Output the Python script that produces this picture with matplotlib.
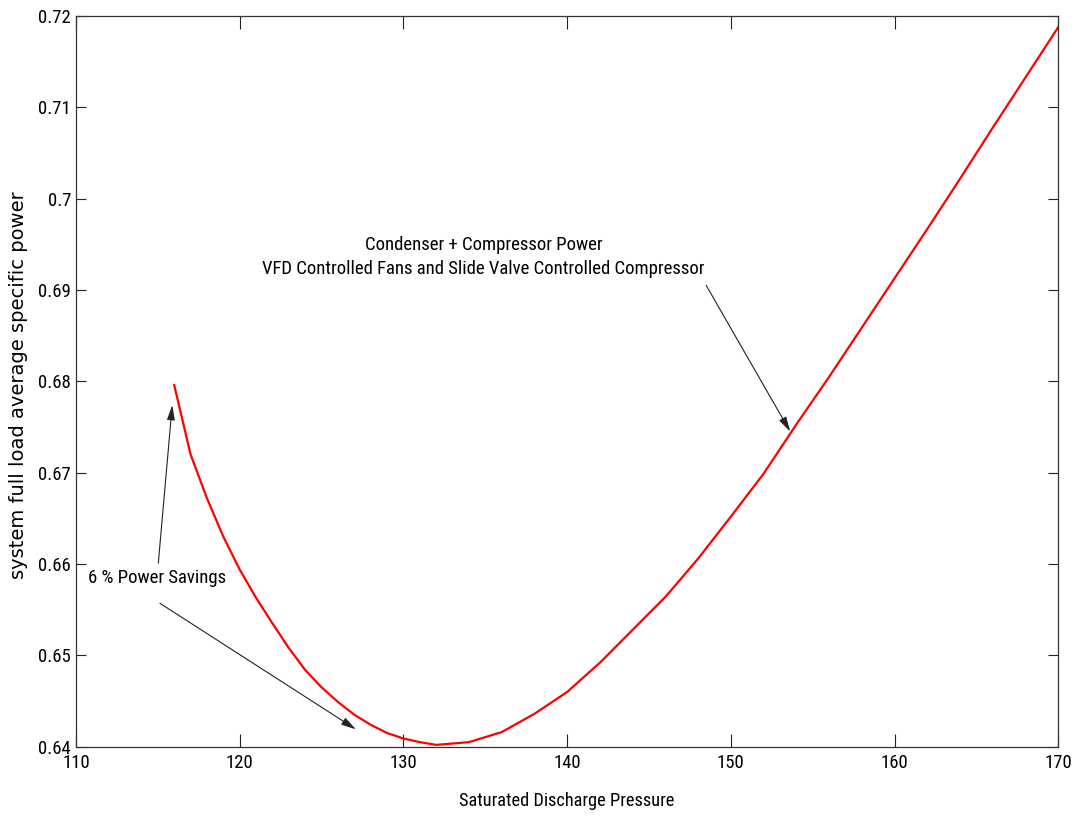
import matplotlib
matplotlib.use("Agg")
import matplotlib.pyplot as plt
from matplotlib import font_manager

# Saturated discharge pressure vs. full-load specific power
pressure = [116, 117, 118, 119, 120, 121, 122, 123, 124, 125, 126, 127, 128,
            129, 130, 131, 132, 134, 136, 138, 140, 142, 144, 146, 148, 150,
            152, 154, 156, 158, 160, 162, 164, 166, 168, 170]
spec_power = [0.6796, 0.6720, 0.6672, 0.6630, 0.6594, 0.6563, 0.6535, 0.6508,
              0.6484, 0.6465, 0.6449, 0.6435, 0.6424, 0.6415, 0.6409, 0.6405,
              0.6402, 0.6405, 0.6416, 0.6436, 0.6460, 0.6492, 0.6528, 0.6564,
              0.6606, 0.6652, 0.6699, 0.6753, 0.6805, 0.6859, 0.6913, 0.6967,
              0.7022, 0.7078, 0.7133, 0.7188]

xticks = [110, 120, 130, 140, 150, 160, 170]
yticks = [0.64, 0.65, 0.66, 0.67, 0.68, 0.69, 0.70, 0.71, 0.72]
ytick_labels = ["0.64", "0.65", "0.66", "0.67", "0.68", "0.69", "0.7", "0.71", "0.72"]

# look for a narrow sans face on this machine
wanted = ["LiberationSansNarrow-Regular", "ArialNarrow", "NotoSans-Condensed.",
          "RobotoCondensed-Regular", "DejaVuSansCondensed."]
found = None
files = [f.fname for f in font_manager.fontManager.ttflist]
for key in wanted:
    hits = [p for p in files if key.lower() in p.lower()]
    if hits:
        found = hits[0]
        break


def font(size):
    if found:
        return font_manager.FontProperties(fname=found, size=size)
    return font_manager.FontProperties(family="Liberation Sans", size=size * 0.85)


fig = plt.figure(figsize=(10.85, 8.24), dpi=100)
ax = fig.add_axes([0.070, 0.0938, 0.9055, 0.8868])

ax.plot(pressure, spec_power, color="red", lw=1.6)

ax.set_xlim(110, 170)
ax.set_ylim(0.64, 0.72)
ax.set_xticks(xticks)
ax.set_yticks(yticks)
ax.set_xticklabels([str(t) for t in xticks], fontproperties=font(13.5))
ax.set_yticklabels(ytick_labels, fontproperties=font(13.5))
ax.tick_params(axis="both", direction="in", top=True, right=True,
               width=0.8, color="#222222")
ax.tick_params(axis="x", length=9.5, pad=5.5)
ax.tick_params(axis="y", length=7.2, pad=3.5)
for s in ax.spines.values():
    s.set_linewidth(0.9)
    s.set_color("#333333")

ax.set_xlabel("Saturated Discharge Pressure", fontproperties=font(13.2), labelpad=14)
ax.set_ylabel("system full load average specific power", family="DejaVu Sans",
              fontsize=14)
ax.yaxis.set_label_coords(-0.049, 0.495)

arrow = dict(arrowstyle="-|>,head_length=0.9,head_width=0.24", lw=0.8,
             color="#222222", shrinkA=0, shrinkB=0)

ax.annotate("", xy=(153.62, 0.6745), xytext=(148.49, 0.6905), arrowprops=arrow)
ax.text(134.89, 0.6936, "Condenser + Compressor Power\n"
        "VFD Controlled Fans and Slide Valve Controlled Compressor",
        ha="center", va="center", multialignment="center",
        fontproperties=font(13.5), linespacing=1.45)

ax.text(110.73, 0.6585, "6 % Power Savings", ha="left", va="center",
        fontproperties=font(13.5))
ax.annotate("", xy=(115.88, 0.6774), xytext=(115.03, 0.6601), arrowprops=arrow)
ax.annotate("", xy=(127.10, 0.6419), xytext=(115.13, 0.6557), arrowprops=arrow)

fig.savefig("out.png", dpi=100)
